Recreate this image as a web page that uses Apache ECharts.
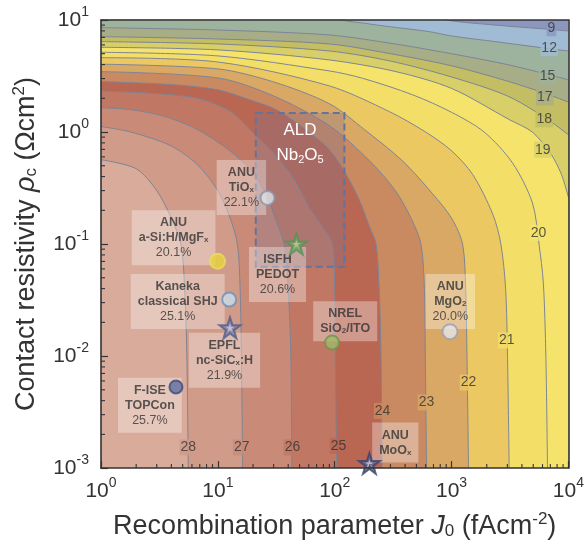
<!DOCTYPE html>
<html>
<head>
<meta charset="utf-8">
<script src="https://cdn.jsdelivr.net/npm/echarts@6.0.0/dist/echarts.min.js"></script>
<style>
  html, body { margin: 0; padding: 0; background: #fff; }
  #chart { width: 587px; height: 547px; }
</style>
</head>
<body>
<div id="chart"></div>
<script>
// 効率コンターと各種パッシベーティングコンタクト（J0 - ρc マップ）
// 曲線の点は図から読み取った値: [J0 (fA/cm2), ρc (Ωcm2)]

const levels = [9, 12, 15, 17, 18, 19, 20, 21, 22, 23, 24, 25, 26, 27, 28];

const contour9  = [[1, 11], [800, 11], [900, 10], [2400, 9.0], [6400, 8.3], [10000, 7.98]];
const contour12 = [[1, 11], [100, 11], [115, 10], [173, 9.4], [300, 8.7], [645, 7.87], [1000, 7.2], [2400, 6.4], [6400, 5.6], [10000, 5.29]];
const contour15 = [[1, 8.54], [10, 8.14], [90, 7.35], [300, 6.2], [1000, 5.0], [3000, 4.0], [6400, 3.3], [10000, 2.92]];
const contour17 = [[1, 7.1], [10, 6.77], [90, 6.11], [300, 5.0], [1000, 3.9], [3000, 2.85], [6400, 2.2], [10000, 1.85]];
const contour18 = [[1, 6.41], [10, 6.11], [90, 5.29], [300, 4.3], [1000, 3.1], [3000, 2.1], [6400, 1.33], [10000, 0.945]];
const contour19 = [[1, 5.71], [10, 5.41], [90, 4.4], [334, 3.46], [1000, 2.45], [3120, 1.29], [4900, 1.0], [7000, 0.65], [8700, 0.42], [10000, 0.261]];
const contour20 = [[1, 5.15], [10, 4.78], [90, 3.51], [173, 3.02], [464, 2.15], [1000, 1.5], [1900, 1.0], [3320, 0.53], [4920, 0.233], [5600, 0.1], [6100, 0.045], [6410, 0.01], [6620, 0.001]];
const contour21 = [[1, 4.61], [10, 4.22], [90, 2.58], [294, 1.52], [600, 1.0], [1000, 0.68], [1520, 0.416], [2260, 0.183], [2642, 0.1], [2900, 0.04], [3012, 0.01], [3110, 0.001]];
const contour22 = [[1, 4.03], [10, 3.66], [30, 2.8], [90, 1.79], [180, 1.05], [382, 0.55], [690, 0.28], [1000, 0.17], [1242, 0.1], [1320, 0.04], [1355, 0.01], [1397, 0.001]];
const contour23 = [[1, 3.46], [10, 3.04], [30, 2.1], [90, 1.14], [200, 0.55], [330, 0.3], [450, 0.17], [547, 0.1], [585, 0.04], [596, 0.01], [611, 0.001]];
const contour24 = [[1, 2.82], [4, 2.65], [10, 2.38], [18.7, 1.94], [31.7, 1.58], [60, 1.0], [90, 0.695], [125, 0.42], [162, 0.249], [200, 0.14], [226, 0.1], [240, 0.04], [249, 0.01], [254, 0.001]];
const contour25 = [[1, 2.33], [3, 2.2], [6.7, 2.0], [12.9, 1.52], [19.8, 1.0], [30, 0.65], [45, 0.38], [61, 0.21], [80, 0.14], [96, 0.1], [100, 0.04], [101, 0.01], [104, 0.001]];
const contour26 = [[1, 1.65], [1.81, 1.58], [3.48, 1.38], [6.7, 1.05], [12.9, 0.67], [20.5, 0.416], [26.6, 0.258], [31, 0.17], [36.9, 0.1], [40, 0.04], [42.1, 0.01], [42.9, 0.001]];
const contour27 = [[1, 1.12], [1.8, 1.0], [4, 0.75], [6.7, 0.51], [10, 0.3], [12.5, 0.18], [14.7, 0.1], [15.5, 0.04], [15.9, 0.01], [16.3, 0.001]];
const contour28 = [[1, 0.566], [2, 0.47], [3, 0.3], [4, 0.17], [4.83, 0.1], [5.2, 0.04], [5.43, 0.01], [5.58, 0.001]];

const contourLines = [contour9, contour12, contour15, contour17, contour18, contour19, contour20,
  contour21, contour22, contour23, contour24, contour25, contour26, contour27, contour28];

// 等高線ラベルの位置
const levelLabelPoints = [[7150, 8.44], [6840, 5.6], [6620, 3.17], [6280, 2.03], [6200, 1.3], [6030, 0.695],
  [5540, 0.126], [2970, 0.0138], [1397, 0.0058], [611, 0.00385], [257, 0.00324], [108, 0.00158],
  [43.5, 0.00153], [16, 0.00153], [5.58, 0.00153]];

// 報告されたデバイス
const deviceNames = ['ANU TiOx', 'ANU a-Si:H/MgFx', 'Kaneka classical SHJ', 'EPFL nc-SiCx:H', 'F-ISE TOPCon',
  'ISFH PEDOT', 'NREL SiO2/ITO', 'ANU MgO2', 'ANU MoOx'];
const devicePoints = [[26.6, 0.258], [9.94, 0.0703], [12.5, 0.032], [12.7, 0.0179], [4.38, 0.0053],
  [47, 0.1], [95, 0.0132], [969, 0.0165], [198, 0.0011]];
const deviceEfficiency = ['22.1%', '20.1%', '25.1%', '21.9%', '25.7%', '20.6%', '', '20.0%', ''];
const noteAnchors = [[15.9, 0.319], [4.18, 0.114], [4.53, 0.0307], [11.4, 0.00917], [2.62, 0.00364],
  [32.4, 0.0535], [123, 0.0205], [975, 0.0307], [330, 0.00169]];
const noteTitles = [
  '{b|ANU}\n{b|TiO}{bs|x}',
  '{b|ANU}\n{b|a-Si:H/MgF}{bs|x}',
  '{b|Kaneka}\n{b|classical SHJ}',
  '{b|EPFL}\n{b|nc-SiC}{bs|x}{b|:H}',
  '{b|F-ISE}\n{b|TOPCon}',
  '{b|ISFH}\n{b|PEDOT}',
  '{b|NREL}\n{b|SiO}{bs|2}{b|/ITO}',
  '{b|ANU}\n{b|MgO}{bs|2}',
  '{b|ANU}\n{b|MoO}{bs|x}'
];
// ALD Nb2O5 の範囲 [J0 左, ρc 上, J0 右, ρc 下]
const aldBox = [21.1, 1.475, 121, 0.0626];

const minorMantissas = [2, 3, 4, 5, 6, 7, 8, 9];
const xDecades = [1, 10, 100, 1000];
const yDecades = [0.001, 0.01, 0.1, 1];

// 見た目
const bandColors = ['#a0bcd4', '#9db39d', '#a7ad86', '#c3bd63', '#d9cf68', '#f5e36b', '#f3df68',
  '#ebc862', '#d9a865', '#c98a62', '#b96652', '#c07764', '#c98b77', '#d09b89', '#d8ab9b'];
const outerColor = '#8b97be';
const STAR = 'path://M50 2 L62 38 L99 38 L69 60 L80 96 L50 74 L20 96 L31 60 L1 38 L38 38 Z';
const markerStyles = [
  { symbol: 'circle', size: 14, color: '#dfe2e8', border: '#8c93a6' },
  { symbol: 'circle', size: 15, color: '#e6d43a', border: '#e9dc60' },
  { symbol: 'circle', size: 14, color: '#c9dceb', border: '#6f8fb5' },
  { symbol: STAR, size: 21, color: '#7c84ad', border: '#555d88' },
  { symbol: 'circle', size: 13, color: '#5f6e9f', border: '#3d4b78' },
  { symbol: STAR, size: 21, color: '#72a46a', border: '#5b9157' },
  { symbol: 'circle', size: 14, color: '#a2b96a', border: '#6e944c' },
  { symbol: 'circle', size: 15, color: '#e3e5ea', border: '#9aa0ae' },
  { symbol: STAR, size: 21, color: '#5d6690', border: '#3c4470' }
];
const starCores = { 3: '#c9cde2', 5: '#b9cf86', 8: '#c9cde6' };

const FONT = '"Liberation Sans", Arial, Helvetica, sans-serif';
const TXT = '#333';

const chart = echarts.init(document.getElementById('chart'), null, { renderer: 'canvas' });

function powLabel(v) {
  const e = Math.round(Math.log10(v));
  return '{b|10}{s|' + e + '}';
}
const tickRich = {
  b: { fontSize: 21, color: TXT, fontFamily: FONT, lineHeight: 30 },
  s: { fontSize: 14, color: TXT, fontFamily: FONT, lineHeight: 14, padding: [0, 0, 16, 0] }
};
function nameRich(size) {
  return {
    i: { fontSize: size, fontStyle: 'italic', color: TXT, fontFamily: FONT },
    c: { fontSize: 17, lineHeight: 17, padding: [10, 0, 0, 0], color: TXT, fontFamily: FONT },
    s: { fontSize: 17, lineHeight: 17, padding: [0, 0, 14, 0], color: TXT, fontFamily: FONT }
  };
}
const frameLine = { show: true, lineStyle: { color: '#333', width: 1.6 } };

const series = [];

// 塗り分けた等高線（外側から順に）
levels.forEach((lv, i) => {
  series.push({
    name: lv + '%',
    type: 'line',
    data: contourLines[i],
    showSymbol: false,
    smooth: 0.3,
    silent: true,
    lineStyle: { color: '#7d8496', width: 1 },
    areaStyle: { color: bandColors[i], opacity: 1, origin: 'start' },
    z: 2
  });
});

// 等高線の数値（背景は外側の帯の色）
series.push({
  type: 'scatter',
  silent: true,
  symbolSize: 1,
  itemStyle: { color: 'rgba(0,0,0,0)' },
  data: levelLabelPoints.map((p, i) => ({
    value: p,
    label: { backgroundColor: i === 0 ? outerColor : bandColors[i - 1] }
  })),
  label: {
    show: true,
    position: 'inside',
    formatter: (p) => String(levels[p.dataIndex]),
    color: TXT,
    fontSize: 14,
    fontFamily: FONT,
    padding: [1, 1]
  },
  z: 4
});

// ALD Nb2O5 の破線ボックス
series.push({
  type: 'custom',
  silent: true,
  data: [aldBox],
  encode: { x: [0, 2], y: [1, 3] },
  renderItem: (params, api) => {
    const p1 = api.coord([api.value(0), api.value(1)]);
    const p2 = api.coord([api.value(2), api.value(3)]);
    const cx = (p1[0] + p2[0]) / 2;
    return {
      type: 'group',
      children: [
        {
          type: 'rect',
          shape: { x: p1[0], y: p1[1], width: p2[0] - p1[0], height: p2[1] - p1[1] },
          style: { fill: 'rgba(128,116,146,0.3)', stroke: '#64739b', lineWidth: 2, lineDash: [7, 4] }
        },
        {
          type: 'text',
          style: { text: 'ALD', x: cx, y: p1[1] + 17, fill: '#fff', fontSize: 17, fontFamily: FONT, align: 'center', verticalAlign: 'middle' }
        },
        {
          type: 'text',
          style: {
            text: 'Nb{s|2}O{s|5}', x: cx, y: p1[1] + 42, fill: '#fff', fontSize: 17, fontFamily: FONT,
            align: 'center', verticalAlign: 'middle',
            rich: { s: { fontSize: 11, fill: '#fff', fontFamily: FONT, lineHeight: 11, padding: [9, 0, 0, 0] } }
          }
        }
      ]
    };
  },
  z: 4
});

// 注記ボックス
series.push({
  type: 'scatter',
  silent: true,
  symbolSize: 1,
  itemStyle: { color: 'rgba(0,0,0,0)' },
  data: noteAnchors.map((p) => ({ value: p })),
  label: {
    show: true,
    position: 'inside',
    formatter: (p) => noteTitles[p.dataIndex] + (deviceEfficiency[p.dataIndex] ? '\n{n|' + deviceEfficiency[p.dataIndex] + '}' : ''),
    backgroundColor: 'rgba(255,255,255,0.42)',
    padding: [5, 7],
    align: 'center',
    rich: {
      b: { fontSize: 12.5, fontWeight: 'bold', color: TXT, fontFamily: FONT, lineHeight: 15, align: 'center' },
      bs: { fontSize: 8, fontWeight: 'bold', color: TXT, fontFamily: FONT, lineHeight: 10, padding: [5, 0, 0, 0] },
      n: { fontSize: 12.5, color: TXT, fontFamily: FONT, lineHeight: 15, align: 'center' }
    }
  },
  z: 5
});

// デバイスのマーカー
series.push({
  name: 'devices',
  type: 'scatter',
  silent: true,
  data: devicePoints.map((p, i) => ({
    name: deviceNames[i],
    value: p,
    symbol: markerStyles[i].symbol,
    symbolSize: markerStyles[i].size,
    itemStyle: { color: markerStyles[i].color, borderColor: markerStyles[i].border, borderWidth: 2 }
  })),
  z: 6
});
series.push({
  type: 'scatter',
  silent: true,
  data: Object.keys(starCores).map((k) => ({
    value: devicePoints[k],
    symbol: STAR,
    symbolSize: 8,
    itemStyle: { color: starCores[k] }
  })),
  z: 7
});

// 対数軸の補助目盛
const xMinor = [];
xDecades.forEach((d) => minorMantissas.forEach((m) => xMinor.push([m * d, 0.001])));
const yMinor = [];
yDecades.forEach((d) => minorMantissas.forEach((m) => yMinor.push([1, m * d])));
series.push({
  type: 'custom',
  silent: true,
  data: xMinor,
  renderItem: (params, api) => {
    const p = api.coord([api.value(0), api.value(1)]);
    return { type: 'line', shape: { x1: p[0], y1: p[1], x2: p[0], y2: p[1] - 4 }, style: { stroke: '#333', lineWidth: 1.1 } };
  },
  z: 12
});
series.push({
  type: 'custom',
  silent: true,
  data: yMinor,
  renderItem: (params, api) => {
    const p = api.coord([api.value(0), api.value(1)]);
    return { type: 'line', shape: { x1: p[0], y1: p[1], x2: p[0] + 4, y2: p[1] }, style: { stroke: '#333', lineWidth: 1.1 } };
  },
  z: 12
});

const option = {
  animation: false,
  backgroundColor: '#fff',
  textStyle: { fontFamily: FONT },
  grid: {
    left: 101, right: 18, top: 20, bottom: 78,
    show: true, backgroundColor: outerColor, borderWidth: 0
  },
  xAxis: [
    {
      type: 'log', logBase: 10, min: 1, max: 10000,
      name: 'Recombination parameter {i|J}{c|0} (fAcm{s|-2})',
      nameLocation: 'middle', nameGap: 39,
      nameTextStyle: { fontSize: 27, color: TXT, fontFamily: FONT, rich: nameRich(27) },
      axisLine: frameLine,
      axisTick: { inside: true, length: 7, lineStyle: { color: '#333', width: 1.2 } },
      axisLabel: { formatter: powLabel, rich: tickRich, margin: 8 },
      splitLine: { show: false },
      z: 10
    },
    {
      type: 'log', logBase: 10, min: 1, max: 10000, position: 'top',
      axisLine: frameLine, axisTick: { show: false }, axisLabel: { show: false },
      splitLine: { show: false }, z: 10
    }
  ],
  yAxis: [
    {
      type: 'log', logBase: 10, min: 0.001, max: 10,
      name: 'Contact resistivity {i|ρ}{c|c} (Ωcm{s|2})',
      nameLocation: 'middle', nameGap: 59, nameRotate: 90,
      nameTextStyle: { fontSize: 27, color: TXT, fontFamily: FONT, rich: nameRich(27) },
      axisLine: frameLine,
      axisTick: { inside: true, length: 7, lineStyle: { color: '#333', width: 1.2 } },
      axisLabel: { formatter: powLabel, rich: tickRich, margin: 12 },
      splitLine: { show: false },
      z: 10
    },
    {
      type: 'log', logBase: 10, min: 0.001, max: 10, position: 'right',
      axisLine: frameLine, axisTick: { show: false }, axisLabel: { show: false },
      splitLine: { show: false }, z: 10
    }
  ],
  series: series
};

chart.setOption(option);
window.addEventListener('resize', () => chart.resize());
</script>
</body>
</html>
